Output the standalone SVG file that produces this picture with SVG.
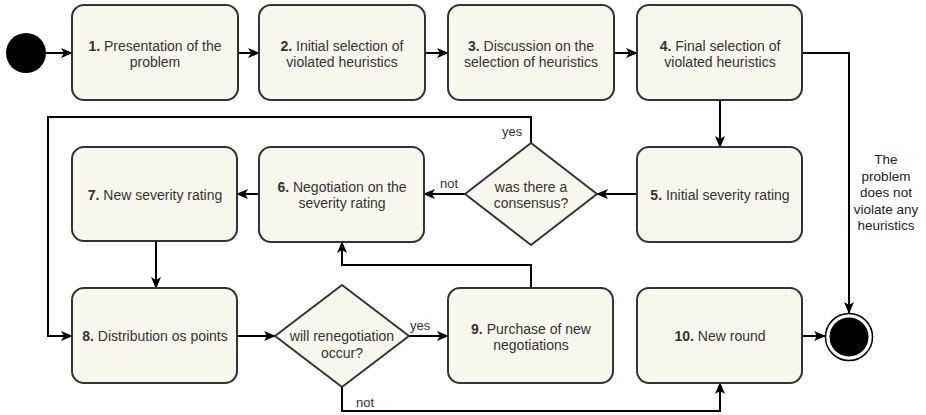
<svg xmlns="http://www.w3.org/2000/svg" width="926" height="415" viewBox="0 0 926 415">
<defs>
<marker id="arr" markerWidth="12" markerHeight="12" viewBox="0 0 12 12" refX="11" refY="6" orient="auto" markerUnits="userSpaceOnUse">
<path d="M0,1 L12,6 L0,11 L3,6 Z" fill="#000"/>
</marker>
<style>
.box{fill:#f8f7ee;stroke:#333;stroke-width:2}
.t{font-family:"Liberation Sans",Arial,sans-serif;font-size:14px;fill:#333;text-anchor:middle}
.s{font-family:"Liberation Sans",Arial,sans-serif;font-size:13.5px;fill:#222;text-anchor:middle}
.b{font-weight:bold}
.c{fill:none;stroke:#000;stroke-width:2}
.ca{fill:none;stroke:#000;stroke-width:2;marker-end:url(#arr)}
.l{font-family:"Liberation Sans",Arial,sans-serif;font-size:13px;fill:#333}
</style>
</defs>
<rect width="926" height="415" fill="#fff"/>
<g id="connectors">
<path class="ca" d="M46,53 L72,53"/>
<path class="ca" d="M238,53 L259,53"/>
<path class="ca" d="M425,53 L448,53"/>
<path class="ca" d="M614,53 L637,53"/>
<path class="ca" d="M720,100 L720,147"/>
<path class="ca" d="M802,53 L849,53 L849,313"/>
<path class="ca" d="M637,194 L597,194"/>
<path class="ca" d="M465,194 L424,194"/>
<path class="ca" d="M531,143 L531,117 L48,117 L48,336 L72,336"/>
<path class="ca" d="M259,194 L237,194"/>
<path class="ca" d="M156,241 L156,288"/>
<path class="ca" d="M237,336 L275,336"/>
<path class="ca" d="M409,336 L448,336"/>
<path class="ca" d="M531,288 L531,265 L342,265 L342,242"/>
<path class="ca" d="M342,387 L342,411 L720,411 L720,383"/>
<path class="ca" d="M802,336 L825,336"/>
<text class="l" x="440" y="188">not</text>
<text class="l" x="502" y="136">yes</text>
<text class="l" x="410" y="330">yes</text>
<text class="l" x="356" y="407">not</text>
<text class="s" x="886" y="164">The</text>
<text class="s" x="886" y="181">problem</text>
<text class="s" x="886" y="197">does not</text>
<text class="s" x="886" y="214">violate any</text>
<text class="s" x="886" y="230">heuristics</text>
</g>
<g id="start"><circle cx="26" cy="53" r="20" fill="#000"/></g>
<g id="end"><circle cx="849" cy="337" r="23.5" fill="#fff" stroke="#000" stroke-width="1.5"/><circle cx="849" cy="337" r="19.5" fill="#000"/></g>
<g id="n1"><rect class="box" x="72" y="5" width="166" height="95" rx="12"/>
<text class="t" x="155" y="51"><tspan class="b">1.</tspan> Presentation of the</text><text class="t" x="155" y="67">problem</text></g>
<g id="n2"><rect class="box" x="259" y="5" width="166" height="95" rx="12"/>
<text class="t" x="342" y="51"><tspan class="b">2.</tspan> Initial selection of</text><text class="t" x="342" y="67">violated heuristics</text></g>
<g id="n3"><rect class="box" x="448" y="5" width="166" height="95" rx="12"/>
<text class="t" x="531" y="51"><tspan class="b">3.</tspan> Discussion on the</text><text class="t" x="531" y="67">selection of heuristics</text></g>
<g id="n4"><rect class="box" x="637" y="5" width="165" height="95" rx="12"/>
<text class="t" x="720" y="51"><tspan class="b">4.</tspan> Final selection of</text><text class="t" x="720" y="67">violated heuristics</text></g>
<g id="n5"><rect class="box" x="637" y="147" width="165" height="95" rx="12"/>
<text class="t" x="720" y="200"><tspan class="b">5.</tspan> Initial severity rating</text></g>
<g id="d1"><path class="box" d="M531,143 L597,194 L531,245 L465,194 Z" stroke-linejoin="round"/>
<text class="t" x="531" y="192">was there a</text><text class="t" x="531" y="208">consensus?</text></g>
<g id="n6"><rect class="box" x="259" y="147" width="165" height="95" rx="12"/>
<text class="t" x="342" y="192"><tspan class="b">6.</tspan> Negotiation on the</text><text class="t" x="342" y="208">severity rating</text></g>
<g id="n7"><rect class="box" x="72" y="147" width="165" height="94" rx="12"/>
<text class="t" x="155" y="200"><tspan class="b">7.</tspan> New severity rating</text></g>
<g id="n8"><rect class="box" x="72" y="288" width="165" height="95" rx="12"/>
<text class="t" x="155" y="341"><tspan class="b">8.</tspan> Distribution os points</text></g>
<g id="d2"><path class="box" d="M342,285 L409,336 L342,387 L275,336 Z" stroke-linejoin="round"/>
<text class="t" x="342" y="341">will renegotiation</text><text class="t" x="342" y="358">occur?</text></g>
<g id="n9"><rect class="box" x="448" y="288" width="165" height="95" rx="12"/>
<text class="t" x="531" y="334"><tspan class="b">9.</tspan> Purchase of new</text><text class="t" x="531" y="350">negotiations</text></g>
<g id="n10"><rect class="box" x="637" y="288" width="165" height="95" rx="12"/>
<text class="t" x="720" y="341"><tspan class="b">10.</tspan> New round</text></g>
</svg>
